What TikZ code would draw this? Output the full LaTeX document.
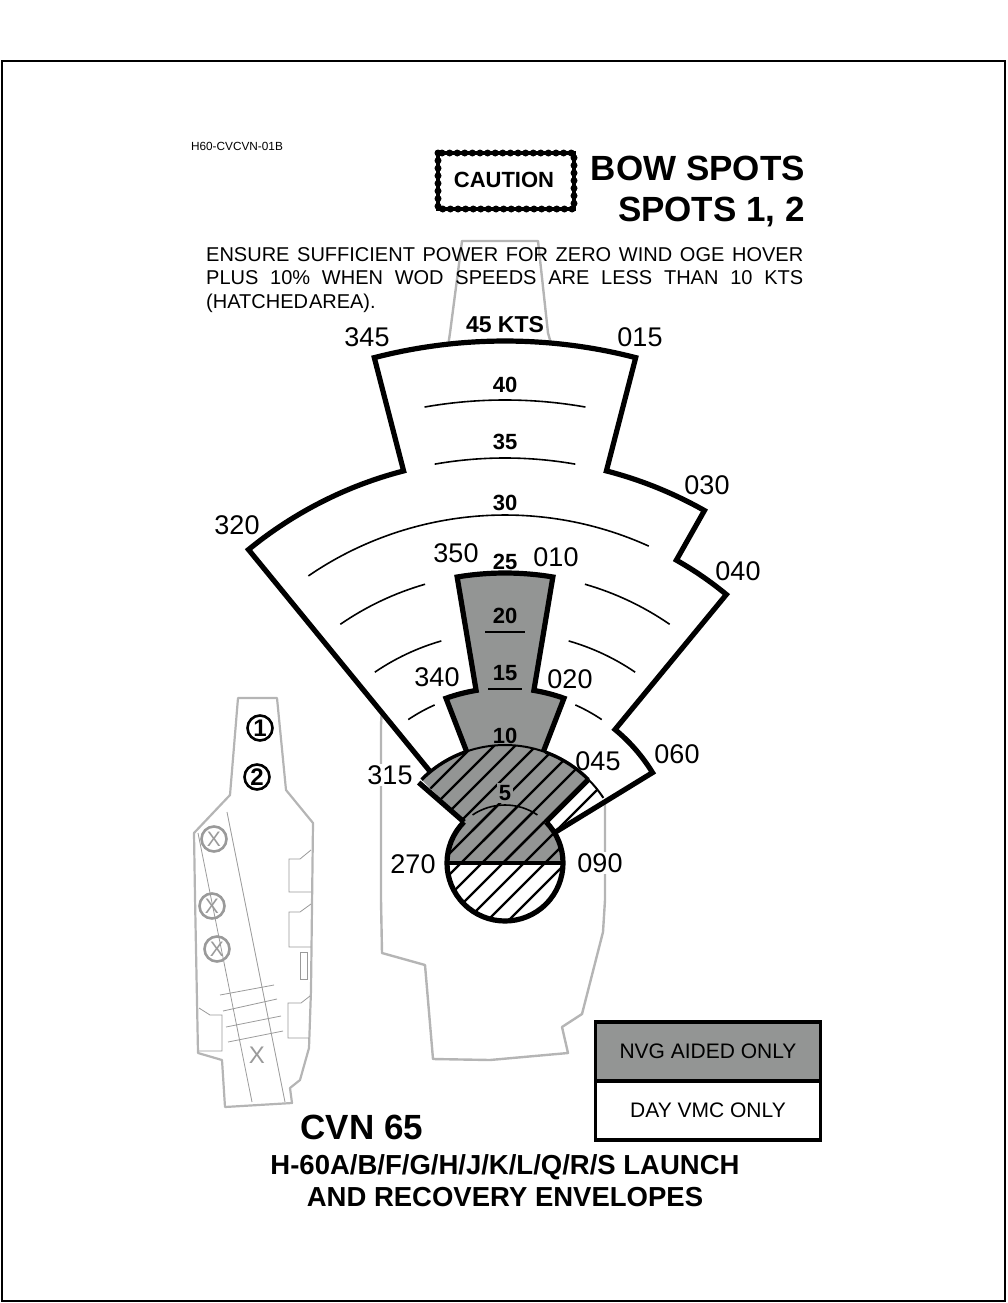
\documentclass[tikz,border=0pt]{standalone}
\usepackage{fontspec}
\setmainfont{Liberation Sans}
\definecolor{NvgGray}{HTML}{939594}
\definecolor{ShipGray}{HTML}{B5B5B5}
\definecolor{DeckGray}{HTML}{9A9A9A}
\newcommand{\fs}[1]{\fontsize{#1}{#1}\selectfont}
\tikzset{
    outline/.style={line width=5.2pt,miter limit=10,line join=miter},
    thickarc/.style={line width=3.4pt},
    speedline/.style={line width=1.6pt},
    hatchline/.style={line width=2.2pt},
    shipline/.style={ShipGray,line width=2.4pt,line join=round},
    minidecks/.style={ShipGray,line width=2.2pt,line join=round},
    deckline/.style={DeckGray,line width=0.8pt},
    bearing/.style={font=\fs{27},inner sep=1pt},
    speed/.style={font=\bfseries\fs{22},inner sep=1pt},
    spotx/.style={circle,draw=DeckGray,line width=2.6pt,text=DeckGray,minimum size=25pt,inner sep=0pt,font=\fs{21}},
    spotnum/.style={circle,draw=black,line width=2.6pt,minimum size=25pt,inner sep=0pt,font=\bfseries\fs{24}},
    legendbox/.style={draw=black,line width=3.8pt,minimum width=225pt,minimum height=59pt,inner sep=0pt,font=\fs{21}},
}
\begin{document}
\begin{tikzpicture}[x=1pt,y=1pt]
        \newcommand{\Brg}[2]{({90-(#1)}:#2)}
        \newcommand{\HatchLines}{%
            \foreach \k in {-9,...,9} {
                \draw[hatchline] ({\k*21-2-170},-170) -- ({\k*21-2+170},170);
            }
        }
        \newcommand{\SpeedArc}[3]{% radius, from bearing, to bearing
            \draw[speedline] \Brg{#2}{#1} arc[start angle={90-(#2)},end angle={90-(#3)},radius=#1];
        }
        \useasboundingbox (0,0) rectangle (1007,-1303);
        \draw[line width=1.8pt] (2,-61) rectangle (1005,-1301);

        % big ship behind the envelope
        \draw[shipline] (462,-241) -- (538,-241) -- (548,-333) -- (590,-480) -- (605,-800) -- (605,-900)
            -- (603,-932) -- (582,-1014) -- (562,-1027) -- (568,-1053) -- (490,-1060) -- (433,-1059)
            -- (425,-965) -- (382,-953) -- (381,-900) -- (381,-725) -- (385,-650) -- (425,-500)
            -- (450,-333) -- cycle;

        % small ship
        \draw[minidecks] (238,-698) -- (277,-698) -- (286,-790) -- (313,-823) -- (311,-990) -- (309,-1048)
            -- (300,-1080) -- (290,-1088) -- (292,-1103) -- (225,-1107) -- (222,-1060) -- (198,-1053)
            -- (195,-897) -- (194,-833) -- (230,-795) -- cycle;
        \draw[deckline] (227,-812) -- (285,-1102);
        \draw[deckline] (198,-833) -- (252,-1102);
        \draw[deckline] (220,-995) -- (274,-985);
        \draw[deckline] (223,-1011) -- (277,-999);
        \draw[deckline] (226,-1027) -- (281,-1016);
        \draw[deckline] (228,-1042) -- (283,-1031);
        \draw[deckline] (311,-850) -- (300,-859) -- (289,-859) -- (289,-892) -- (311,-892);
        \draw[deckline] (311,-904) -- (300,-912) -- (289,-912) -- (289,-947) -- (311,-947);
        \draw[deckline] (310,-996) -- (301,-1003) -- (288,-1003) -- (288,-1038) -- (309,-1038);
        \draw[deckline] (300,-952) rectangle (307,-979);
        \draw[deckline] (199,-1008) -- (210,-1015) -- (222,-1015) -- (222,-1051) -- (199,-1051);
        \node[spotx] (xa) at (214,-839) {X};
        \node[spotx] (xb) at (212,-906) {X};
        \node[spotx] (xc) at (217,-949) {X};
        \node[text=DeckGray,font=\fs{24},inner sep=0pt] (xd) at (257,-1055) {X};
        \node[spotnum] (spota) at (260,-728) {1};
        \node[spotnum] (spotb) at (257,-777) {2};

        % header
        \node[font=\fs{11.8},inner sep=0pt] (tag) at (237,-146) {H60-CVCVN-01B};
        \draw[line width=4pt] (438,-153) rectangle (574,-209);
        \draw[line width=7pt,line cap=round,dash pattern=on 0pt off 7.6pt] (438,-153) rectangle (574,-209);
        \node[font=\bfseries\fs{22},inner sep=0pt] (caution) at (504,-180) {CAUTION};
        \node[font=\bfseries\fs{35},anchor=base east,inner sep=0pt] (titlea) at (805,-180) {BOW SPOTS};
        \node[font=\bfseries\fs{35},anchor=base east,inner sep=0pt] (titleb) at (805,-221) {SPOTS 1, 2};
        \node[anchor=base west,inner sep=0pt,font=\fs{20}] (warna) at (206,-261)
            {\makebox[597pt][s]{ENSURE SUFFICIENT POWER FOR ZERO WIND OGE HOVER}};
        \node[anchor=base west,inner sep=0pt,font=\fs{20}] (warnb) at (206,-284.5)
            {\makebox[597pt][s]{PLUS 10\% WHEN WOD SPEEDS ARE LESS THAN 10 KTS}};
        \node[anchor=base west,inner sep=0pt,font=\fs{20}] (warnc) at (206,-308)
            {\spaceskip=1pt (HATCHED AREA).};

        \begin{scope}[shift={(505,-863)}]
            % white envelope
            \draw[outline,fill=white] \Brg{-39.3}{117} -- \Brg{-39.3}{405}
                arc[start angle={90+39.3},end angle={90+14.5},radius=405] -- \Brg{-14.5}{522}
                arc[start angle={90+14.5},end angle={90-14.5},radius=522] -- \Brg{14.5}{405}
                arc[start angle={90-14.5},end angle={90-29.5},radius=405] -- \Brg{29.5}{348}
                arc[start angle={90-29.5},end angle={90-39.5},radius=348] -- \Brg{39.5}{173}
                arc[start angle={90-39.5},end angle={90-58.5},radius=173] -- \Brg{58.5}{59};

            \SpeedArc{463}{-10}{10}
            \SpeedArc{405}{-10}{10}
            \SpeedArc{348}{-34.4}{24.4}
            \SpeedArc{290}{-34.6}{-16}
            \SpeedArc{290}{16}{34.6}
            \SpeedArc{231}{-34.3}{-16}
            \SpeedArc{231}{16}{34.3}
            \SpeedArc{173}{-34}{-24}
            \SpeedArc{173}{24}{34}

            % white hatched wedge
            \begin{scope}
                \clip (0,0) -- \Brg{45}{118} arc[start angle=45,end angle={90-56.5},radius=118] -- cycle;
                \HatchLines
            \end{scope}
            \draw[line width=2pt] \Brg{45}{118} arc[start angle=45,end angle={90-56.5},radius=118];

            % gray tower and gray wedge
            \draw[outline,fill=NvgGray] \Brg{-19}{118} -- \Brg{-19.7}{175}
                arc[start angle={90+19.7},end angle={90+9.5},radius=175] -- \Brg{-9.5}{290}
                arc[start angle={90+9.5},end angle={90-9.5},radius=290] -- \Brg{9.5}{175}
                arc[start angle={90-9.5},end angle={90-19.7},radius=175] -- \Brg{19}{118};
            \fill[NvgGray] (0,0) -- \Brg{-45}{118} arc[start angle=135,end angle=45,radius=118] -- cycle;

            % centre circle
            \fill[white] (-57,0) arc[start angle=180,end angle=360,radius=57] -- cycle;
            \fill[NvgGray] (-57,0) arc[start angle=180,end angle=0,radius=57] -- cycle;
            \begin{scope}
                \clip (0,0) circle[radius=57];
                \HatchLines
            \end{scope}
            \begin{scope}
                \clip (0,0) -- \Brg{-45}{118} arc[start angle=135,end angle=45,radius=118] -- cycle;
                \HatchLines
            \end{scope}
            \draw[line width=2pt] \Brg{-20}{118} arc[start angle=110,end angle=70,radius=118];
            \draw[thickarc] \Brg{-45}{118} arc[start angle=135,end angle=110,radius=118];
            \draw[thickarc] \Brg{20}{118} arc[start angle=70,end angle=45,radius=118];
            \draw[outline] \Brg{-47}{118} -- \Brg{-45}{58};
            \draw[outline] \Brg{45}{118} -- \Brg{45}{58};
            \draw[line width=1.6pt] (-17,174) -- (17,174);
            \draw[line width=1.6pt] (-20,231) -- (20,231);
            \SpeedArc{58}{-34}{34}
            \draw[outline] \Brg{45}{58} arc[start angle=45,end angle=-225,radius=58];
            \draw[line width=4pt] (-57,0) -- (57,0);
        \end{scope}

        % speeds
        \node[font=\bfseries\fs{23},inner sep=1pt] (kts) at (505,-325) {45 KTS};
        \node[speed] (sforty) at (505,-385) {40};
        \node[speed] (sthirtyfive) at (505,-442) {35};
        \node[speed] (sthirty) at (505,-503) {30};
        \node[speed] (stwentyfive) at (505,-562) {25};
        \node[speed] (stwenty) at (505,-616) {20};
        \node[speed] (sfifteen) at (505,-673) {15};
        \node[speed] (sten) at (505,-736) {10};
        \node[speed,fill=NvgGray,inner sep=2pt] (sfive) at (505,-793) {5};

        % bearings
        \node[bearing] (ba) at (367,-337) {345};
        \node[bearing] (bb) at (640,-337) {015};
        \node[bearing] (bc) at (237,-525) {320};
        \node[bearing] (bd) at (707,-485) {030};
        \node[bearing] (be) at (738,-571) {040};
        \node[bearing] (bf) at (456,-553) {350};
        \node[bearing] (bg) at (556,-557) {010};
        \node[bearing] (bh) at (437,-677) {340};
        \node[bearing] (bi) at (570,-679) {020};
        \node[bearing,fill=white] (bj) at (390,-775) {315};
        \node[bearing] (bk) at (598,-761) {045};
        \node[bearing] (bl) at (677,-754) {060};
        \node[bearing] (bm) at (413,-864) {270};
        \node[bearing,fill=white] (bn) at (600,-863) {090};

        % legend
        \node[legendbox,fill=NvgGray] (nvg) at (708,-1051.5) {NVG AIDED ONLY};
        \node[legendbox,fill=white] (day) at (708,-1110.5) {DAY VMC ONLY};

        % footer
        \node[font=\bfseries\fs{35},inner sep=0pt] (cvn) at (362,-1127) {CVN 65};
        \node[font=\bfseries\fs{27.5},inner sep=0pt] (foota) at (505,-1167.5) {H-60A/B/F/G/H/J/K/L/Q/R/S LAUNCH};
        \node[font=\bfseries\fs{27.5},inner sep=0pt] (footb) at (505,-1197) {AND RECOVERY ENVELOPES};
    \end{tikzpicture}
\end{document}
